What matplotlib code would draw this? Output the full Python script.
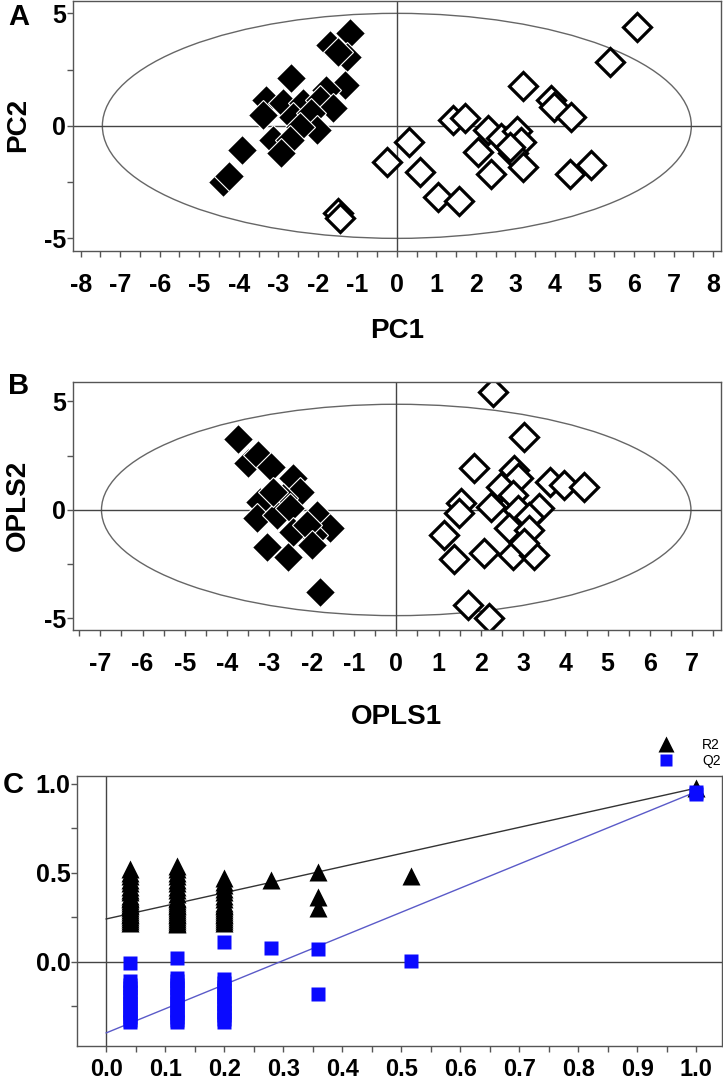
import matplotlib
matplotlib.use("Agg")
from matplotlib import pyplot as plt
from matplotlib import font_manager
from matplotlib.patches import Ellipse
from matplotlib.ticker import MultipleLocator, FormatStrFormatter

# ---- A : PCA score plot (filled = group 1, open = group 2)
pca_g1_x = [-1.19, -1.70, -1.27, -1.49, -2.67, -1.32, -1.78, -3.30, -3.38, -2.88,
            -2.37, -1.95, -1.61, -2.63, -2.16, -2.03, -2.46, -3.13, -2.71, -2.92,
            -3.93, -4.40, -4.25]
pca_g1_y = [4.12, 3.60, 3.08, 3.30, 2.12, 1.82, 1.60, 1.16, 0.49, 1.01,
            1.01, 1.16, 0.79, 0.41, 0.56, -0.18, -0.03, -0.62, -0.62, -1.21,
            -1.07, -2.48, -2.25]
pca_g2_x = [6.08, 5.40, 3.20, 3.90, 3.97, 4.41, 1.43, 1.72, 2.30, 2.63,
            3.05, 3.14, 2.06, 2.93, 3.18, 0.30, -0.25, 0.59, 2.38, 4.91,
            4.39, 1.05, 1.58, 2.85, -1.49, -1.44]
pca_g2_y = [4.41, 2.83, 1.78, 1.16, 0.86, 0.41, 0.27, 0.34, -0.18, -0.55,
            -0.25, -0.70, -1.14, -1.21, -1.81, -0.70, -1.59, -2.07, -2.15, -1.73,
            -2.15, -3.14, -3.36, -0.92, -3.88, -4.10]

# ---- B : OPLS-DA score plot
opls_g1_x = [-3.73, -3.50, -3.26, -2.95, -2.43, -2.28, -3.22, -2.67, -3.30, -2.83,
             -2.51, -1.88, -1.57, -1.96, -2.43, -2.12, -3.06, -2.55, -2.00, -1.80,
             -2.91]
opls_g1_y = [3.27, 2.15, 2.53, 2.00, 1.46, 0.84, 0.38, 0.54, -0.38, -0.23,
             0.08, -0.23, -0.84, -1.15, -1.00, -0.69, -1.69, -2.15, -1.61, -3.76,
             0.84]
opls_g2_x = [2.28, 3.01, 1.83, 2.79, 2.87, 3.64, 3.97, 4.44, 2.48, 2.75,
             1.53, 1.49, 2.24, 2.87, 3.38, 3.14, 2.67, 3.14, 1.12, 1.36,
             2.08, 2.75, 3.26, 1.70, 2.20, 3.03]
opls_g2_y = [5.42, 3.38, 1.95, 1.84, 1.46, 1.30, 1.15, 1.07, 1.07, 0.69,
             0.31, -0.15, 0.15, 0.00, 0.08, -0.31, -0.84, -0.92, -1.15, -2.26,
             -2.00, -2.07, -2.07, -4.38, -4.99, -1.53]

# ---- C : permutation test
perm_x = [0.041, 0.12, 0.20, 0.279, 0.359, 0.517, 1.0]
r2_perm = [
    [0.52, 0.50, 0.48, 0.46, 0.44, 0.42, 0.40, 0.39, 0.37, 0.36, 0.35, 0.34,
     0.33, 0.32, 0.31, 0.30, 0.29, 0.28, 0.27, 0.26, 0.25, 0.24, 0.23, 0.22],
    [0.54, 0.52, 0.50, 0.48, 0.46, 0.44, 0.42, 0.40, 0.38, 0.36, 0.35, 0.34,
     0.33, 0.32, 0.31, 0.30, 0.29, 0.28, 0.27, 0.26, 0.25, 0.24, 0.23, 0.22, 0.21],
    [0.47, 0.45, 0.43, 0.41, 0.39, 0.37, 0.35, 0.33, 0.32, 0.31, 0.30, 0.29,
     0.28, 0.27, 0.26, 0.25, 0.24, 0.23, 0.22],
    [0.46],
    [0.506, 0.365, 0.30],
    [0.48],
    [0.975],
]
q2_perm = [
    [-0.01, -0.11, -0.13, -0.15, -0.17, -0.19, -0.21, -0.23, -0.25, -0.27,
     -0.29, -0.31, -0.33, -0.34],
    [0.02, -0.09, -0.11, -0.13, -0.15, -0.17, -0.19, -0.21, -0.23, -0.25,
     -0.27, -0.29, -0.31, -0.33, -0.34],
    [0.11, -0.10, -0.12, -0.14, -0.16, -0.18, -0.20, -0.22, -0.24, -0.26,
     -0.28, -0.30, -0.32, -0.34],
    [0.075],
    [0.07, -0.18],
    [0.005],
    [0.955, 0.94],
]
r2_line = [0.24, 0.975]   # intercept, original model
q2_line = [-0.40, 0.955]

names = {f.name for f in font_manager.fontManager.ttflist}
plt.rcParams['font.family'] = ['Liberation Sans', 'DejaVu Sans']
plt.rcParams['axes.unicode_minus'] = False
narrow = 'Liberation Sans Narrow' if 'Liberation Sans Narrow' in names else 'Liberation Sans'

GRID = '#555555'
fig = plt.figure(figsize=(7.23, 10.85), dpi=100)


def style_axes(ax, xmaj, xmin, ymaj, ymin, xpad, xsize=18):
    for s in ax.spines.values():
        s.set_color(GRID)
        s.set_linewidth(1)
    ax.xaxis.set_major_locator(MultipleLocator(xmaj))
    ax.xaxis.set_minor_locator(MultipleLocator(xmin))
    ax.yaxis.set_major_locator(MultipleLocator(ymaj))
    ax.yaxis.set_minor_locator(MultipleLocator(ymin))
    ax.tick_params(which='both', direction='out', length=4, width=1, color=GRID)
    ax.tick_params(axis='x', labelsize=xsize, pad=xpad)
    ax.tick_params(axis='y', labelsize=18, pad=1)
    for lab in ax.get_xticklabels() + ax.get_yticklabels():
        lab.set_fontweight('bold')
    ax.axhline(0, color='#444444', lw=1, zorder=1)
    ax.axvline(0, color='#444444', lw=1, zorder=1)


def score_panel(rect, g1x, g1y, g2x, g2y, a, b, xlim, ylim, xlabel, ylabel, letter):
    ax = fig.add_axes(rect)
    ax.add_patch(Ellipse((0, 0), 2 * a, 2 * b, fill=False, ec='#666666', lw=1, zorder=1))
    ax.plot(g2x, g2y, 'D', ms=14, mfc='white', mec='black', mew=2.3, zorder=2)
    ax.plot(g1x, g1y, 'D', ms=15.5, mfc='black', mec='white', mew=0.8, zorder=3)
    ax.set_xlim(xlim)
    ax.set_ylim(ylim)
    style_axes(ax, 1, 0.5, 5, 2.5, 12)
    ax.set_xlabel(xlabel, fontsize=20, fontweight='bold')
    ax.set_ylabel(ylabel, fontsize=20, fontweight='bold')
    ax.text(-0.083, 0.99, letter, transform=ax.transAxes, fontsize=21,
            fontweight='bold', ha='center', va='top')
    return ax


axA = score_panel([0.1006, 0.7689, 0.8966, 0.2302], pca_g1_x, pca_g1_y, pca_g2_x, pca_g2_y,
                  7.45, 5.0, (-8.2, 8.2), (-5.55, 5.55), 'PC1', 'PC2', 'A')
axA.xaxis.set_label_coords(0.5, -0.27)
axA.yaxis.set_label_coords(-0.064, 0.503)

axB = score_panel([0.1006, 0.4194, 0.8966, 0.2288], opls_g1_x, opls_g1_y, opls_g2_x, opls_g2_y,
                  6.97, 4.87, (-7.65, 7.68), (-5.53, 5.91), 'OPLS1', 'OPLS2', 'B')
axB.xaxis.set_label_coords(0.5, -0.30)
axB.yaxis.set_label_coords(-0.064, 0.503)
axB.texts[0].set_position((-0.083, 1.04))

# ---- C
axC = fig.add_axes([0.1069, 0.0362, 0.8913, 0.2486])
axC.plot([0, 1.0], r2_line, color='#333333', lw=1, zorder=2)
axC.plot([0, 1.0], q2_line, color='#5a5ac8', lw=1, zorder=2)
for xv, ys in zip(perm_x, r2_perm):
    axC.plot([xv] * len(ys), ys, '^', ms=13, color='black', mec='none', zorder=3)
for xv, ys in zip(perm_x, q2_perm):
    axC.plot([xv] * len(ys), ys, 's', ms=9.5, color='#0a0aff', mec='none', zorder=4)
axC.set_xlim(-0.049, 1.043)
axC.set_ylim(-0.472, 1.043)
style_axes(axC, 0.1, 0.05, 0.5, 0.25, 5, xsize=17)
axC.xaxis.set_major_formatter(FormatStrFormatter('%.1f'))
axC.yaxis.set_major_formatter(FormatStrFormatter('%.1f'))
axC.text(-0.1, 0.965, 'C', transform=axC.transAxes, fontsize=21,
         fontweight='bold', ha='center', va='center')

h_r2, = axC.plot([], [], '^', ms=11, color='black', mec='none')
h_q2, = axC.plot([], [], 's', ms=8.5, color='#0a0aff', mec='none')
axC.legend([h_r2, h_q2], ['R2', 'Q2'], loc='lower right', bbox_to_anchor=(0.997, 0.292),
           bbox_transform=fig.transFigure, frameon=False, handlelength=0.8,
           handletextpad=2.2, labelspacing=0.15, borderpad=0, borderaxespad=0,
           prop={'family': narrow, 'size': 10})

fig.savefig('out.png', dpi=100)
